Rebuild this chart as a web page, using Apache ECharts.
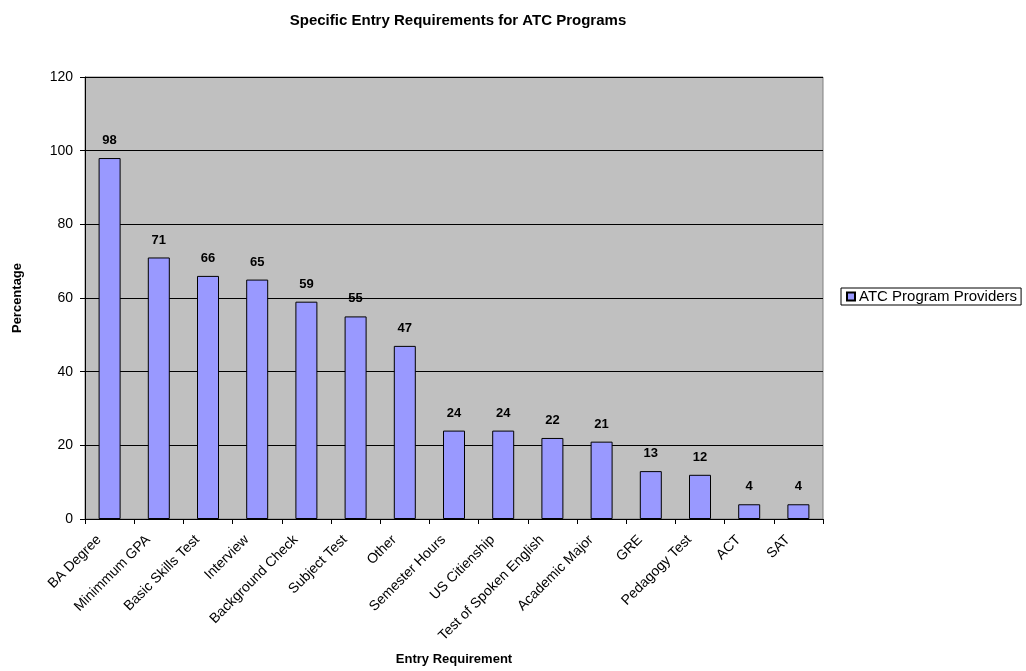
<!DOCTYPE html>
<html><head><meta charset="utf-8">
<script src="https://cdn.jsdelivr.net/npm/echarts@6/dist/echarts.min.js"></script>
<style>html,body{margin:0;padding:0;background:#fff}#c{width:1026px;height:671px}</style>
</head><body><div id="c"></div>
<script>
const categories = ["BA Degree","Minimmum GPA","Basic Skills Test","Interview","Background Check","Subject Test","Other","Semester Hours","US Citienship","Test of Spoken English","Academic Major","GRE","Pedagogy Test","ACT","SAT"];
const values = [98,71,66,65,59,55,47,24,24,22,21,13,12,4,4];
const yTicks = [0,20,40,60,80,100,120];
const seriesName = "ATC Program Providers";

const FONT = '"Liberation Sans", Arial, sans-serif';
const chart = echarts.init(document.getElementById('c'));
chart.setOption({
  animation: false,
  title: {
    text: "Specific Entry Requirements for ATC Programs",
    left: 453, top: 8, textAlign: 'center',
    textStyle: {fontFamily: FONT, fontSize: 15, fontWeight: 'bold', color: '#000'}
  },
  legend: {
    left: 841, top: 288,
    orient: 'vertical',
    padding: [1, 4, 1, 5],
    borderColor: '#000', borderWidth: 1, borderRadius: 0,
    itemWidth: 8, itemHeight: 8, itemGap: 4,
    icon: 'rect',
    textStyle: {fontFamily: FONT, fontSize: 15, lineHeight: 15, color: '#000', padding: [0,0,0,-1]},
    data: [seriesName]
  },
  grid: {
    left: 85, right: 203, top: 77, bottom: 151,
    show: true, backgroundColor: '#C0C0C0', borderColor: '#808080', borderWidth: 1
  },
  xAxis: {
    type: 'category', data: categories,
    name: "Entry Requirement", nameLocation: 'middle', nameGap: 134,
    nameTextStyle: {fontFamily: FONT, fontSize: 13, fontWeight: 'bold', color: '#000'},
    axisLine: {lineStyle: {color: '#000', width: 1}},
    axisTick: {show: true, alignWithLabel: false, length: 5, lineStyle: {color: '#000'}},
    axisLabel: {rotate: 45, interval: 0, fontFamily: FONT, fontSize: 14, color: '#000', margin: 8, padding: [0, 15, 0, 0]},
    splitLine: {show: false}
  },
  yAxis: {
    type: 'value', min: 0, max: 120, interval: 20,
    name: "Percentage", nameLocation: 'middle', nameGap: 61, nameRotate: 90,
    nameTextStyle: {fontFamily: FONT, fontSize: 13, fontWeight: 'bold', color: '#000'},
    axisLine: {show: true, lineStyle: {color: '#000', width: 1}},
    axisTick: {show: true, length: 5, lineStyle: {color: '#000'}},
    axisLabel: {fontFamily: FONT, fontSize: 14, color: '#000', margin: 12,
      formatter: v => yTicks.includes(v) ? String(v) : ''},
    splitLine: {show: true, lineStyle: {color: '#000', width: 1}}
  },
  series: [{
    name: seriesName, type: 'bar', data: values,
    barWidth: 22,
    itemStyle: {color: '#9999FF', borderColor: '#000', borderWidth: 1},
    label: {show: true, position: 'top', distance: 11, fontFamily: FONT, fontSize: 13, fontWeight: 'bold', color: '#000'}
  }]
});
</script></body></html>
